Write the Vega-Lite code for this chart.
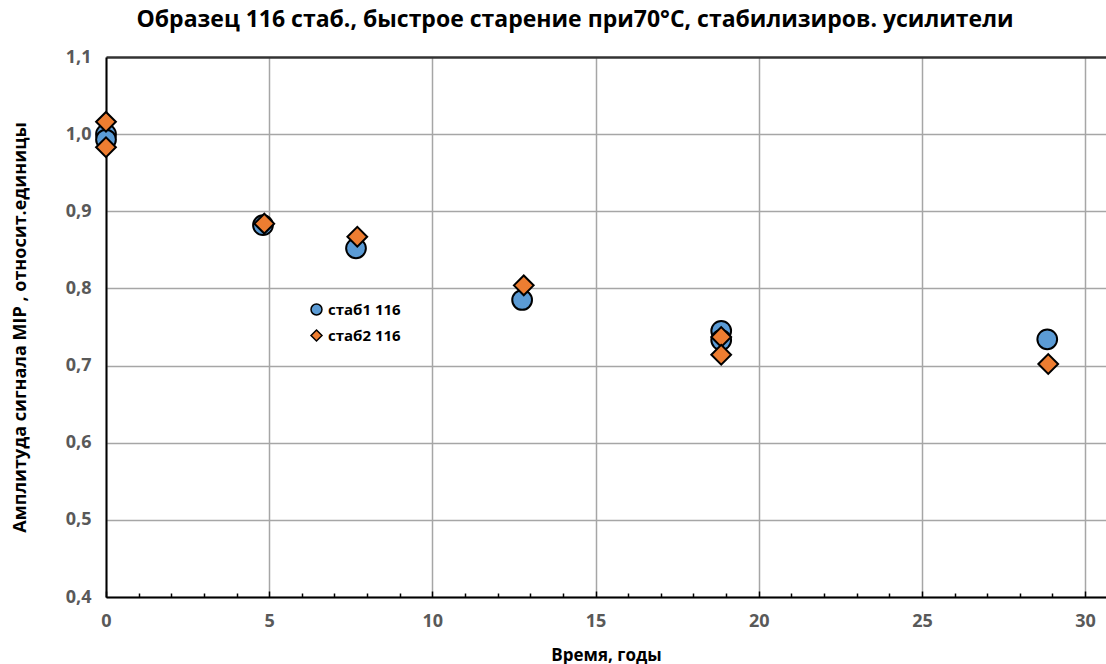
{
  "$schema": "https://vega.github.io/schema/vega-lite/v6.json",
  "width": 1000,
  "height": 540,
  "autosize": {"type": "none"},
  "padding": {"left": 106, "top": 57, "right": 0, "bottom": 67},
  "background": "white",
  "title": {
    "text": "Образец 116 стаб., быстрое старение при70°C,  стабилизиров. усилители",
    "font": "Open Sans",
    "fontSize": 23,
    "fontWeight": "bold",
    "color": "#000000",
    "anchor": "middle",
    "dx": -31,
    "offset": 16
  },
  "config": {
    "view": {"stroke": null},
    "legend": {"padding": 0}
  },
  "data": {
    "values": [
      {"series": "стаб1 116", "t": 0, "amp": 1.0},
      {"series": "стаб1 116", "t": 0, "amp": 0.993},
      {"series": "стаб1 116", "t": 4.81, "amp": 0.882},
      {"series": "стаб1 116", "t": 7.66, "amp": 0.852},
      {"series": "стаб1 116", "t": 12.75, "amp": 0.785},
      {"series": "стаб1 116", "t": 18.85, "amp": 0.745},
      {"series": "стаб1 116", "t": 18.85, "amp": 0.733},
      {"series": "стаб1 116", "t": 28.84, "amp": 0.734},
      {"series": "стаб2 116", "t": 0, "amp": 1.016},
      {"series": "стаб2 116", "t": 0, "amp": 0.983},
      {"series": "стаб2 116", "t": 4.85, "amp": 0.884},
      {"series": "стаб2 116", "t": 7.7, "amp": 0.867},
      {"series": "стаб2 116", "t": 12.8, "amp": 0.804},
      {"series": "стаб2 116", "t": 18.85, "amp": 0.737},
      {"series": "стаб2 116", "t": 18.85, "amp": 0.714},
      {"series": "стаб2 116", "t": 28.87, "amp": 0.702}
    ]
  },
  "mark": {"type": "point", "filled": true, "stroke": "#000000", "strokeWidth": 2, "opacity": 1, "size": 390},
  "encoding": {
    "x": {
      "field": "t",
      "type": "quantitative",
      "scale": {"domain": [0, 30.64], "nice": false, "zero": false},
      "axis": {
        "values": [0,1,2,3,4,5,6,7,8,9,10,11,12,13,14,15,16,17,18,19,20,21,22,23,24,25,26,27,28,29,30],
        "title": "Время, годы",
        "titleFont": "Open Sans",
        "titleFontSize": 17,
        "titleFontWeight": "bold",
        "titleColor": "#000000",
        "titlePadding": 17,
        "labelExpr": "datum.value % 5 === 0 ? datum.label : ''",
        "labelFont": "Open Sans",
        "labelFontSize": 18,
        "labelFontWeight": "bold",
        "labelColor": "#595959",
        "labelPadding": 21,
        "labelFlush": false,
        "domainColor": "#000000",
        "domainWidth": 2,
        "tickColor": "#000000",
        "tickWidth": 1.5,
        "tickSize": {"condition": {"test": "datum.value % 5 === 0", "value": -6}, "value": -4},
        "grid": true,
        "gridColor": "#a6a6a6",
        "gridWidth": 1.5,
        "gridOpacity": {"condition": {"test": "datum.value % 5 === 0", "value": 1}, "value": 0}
      }
    },
    "y": {
      "field": "amp",
      "type": "quantitative",
      "scale": {"domain": [0.4, 1.1], "nice": false, "zero": false},
      "axis": {
        "values": [0.4, 0.5, 0.6, 0.7, 0.8, 0.9, 1.0, 1.1],
        "title": "Амплитуда сигнала MIP , относит.единицы",
        "titleFont": "Open Sans",
        "titleFontSize": 18,
        "titleFontWeight": "bold",
        "titleColor": "#000000",
        "titlePadding": 36,
        "labelExpr": "replace(format(datum.value, '.1f'), '.', ',')",
        "labelFont": "Open Sans",
        "labelFontSize": 18,
        "labelFontWeight": "bold",
        "labelColor": "#595959",
        "labelPadding": 15,
        "ticks": false,
        "domainColor": "#000000",
        "domainWidth": 2,
        "grid": true,
        "gridColor": {"condition": {"test": "datum.value > 1.05", "value": "#333333"}, "value": "#a6a6a6"},
        "gridWidth": {"condition": {"test": "datum.value > 1.05", "value": 2.5}, "value": 1.5}
      }
    },
    "color": {
      "field": "series",
      "type": "nominal",
      "scale": {"domain": ["стаб1 116", "стаб2 116"], "range": ["#5b9bd5", "#ed7d31"]},
      "legend": {
        "title": null,
        "orient": "none",
        "legendX": 203,
        "legendY": 245,
        "labelFont": "Open Sans",
        "labelFontSize": 15,
        "labelFontWeight": "bold",
        "labelColor": "#000000",
        "symbolSize": 120,
        "symbolStrokeWidth": 1.5,
        "symbolStrokeColor": "#000000",
        "rowPadding": 9,
        "labelOffset": 4
      }
    },
    "shape": {
      "field": "series",
      "type": "nominal",
      "scale": {"domain": ["стаб1 116", "стаб2 116"], "range": ["circle", "diamond"]},
      "legend": null
    },
    "order": {"field": "series", "type": "nominal"}
  }
}
